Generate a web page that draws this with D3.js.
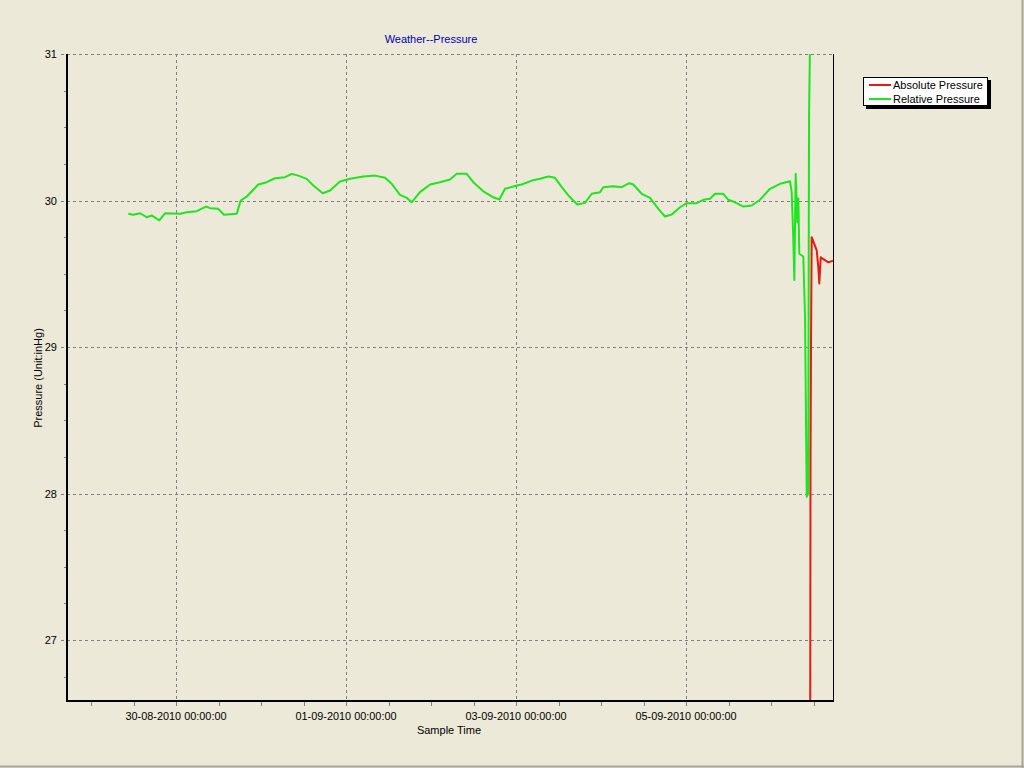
<!DOCTYPE html>
<html>
<head>
<meta charset="utf-8">
<script src="https://cdn.jsdelivr.net/npm/d3@7"></script>
<style>
  html, body { margin: 0; padding: 0; background: #ECE9D8; }
  svg { display: block; }
  text { font-family: "Liberation Sans", Arial, sans-serif; }
</style>
</head>
<body>
<svg id="chart" width="1024" height="768"></svg>
<script>
// ---------------- DATA ----------------
const chartTitle = "Weather--Pressure";
const xTitle = "Sample Time";
const yTitle = "Pressure (Unit:inHg)";
const seriesNames = ["Absolute Pressure", "Relative Pressure"];
const seriesColors = ["#E41A14", "#1EE61E"];

const xDomain = ["2010-08-28 17:13", "2010-09-06 17:30"];
const yDomain = [26.584, 31];
const yMajorTicks = [27, 28, 29, 30, 31];
const xLabelTicks = ["2010-08-30 00:00", "2010-09-01 00:00", "2010-09-03 00:00", "2010-09-05 00:00"];
const xTickLabels = ["30-08-2010 00:00:00", "01-09-2010 00:00:00", "03-09-2010 00:00:00", "05-09-2010 00:00:00"];

const relTimes = [
"2010-08-29 10:32","2010-08-29 11:56","2010-08-29 13:50","2010-08-29 15:44","2010-08-29 17:08",
"2010-08-29 19:17","2010-08-29 20:53","2010-08-30 01:08","2010-08-30 03:01","2010-08-30 05:50",
"2010-08-30 08:28","2010-08-30 09:36","2010-08-30 11:56","2010-08-30 13:33","2010-08-30 17:08",
"2010-08-30 18:16","2010-08-30 19:58","2010-08-30 23:14","2010-08-31 01:37","2010-08-31 03:57",
"2010-08-31 06:47","2010-08-31 08:40","2010-08-31 10:32","2010-08-31 12:54","2010-08-31 14:46",
"2010-08-31 17:25","2010-08-31 19:29","2010-08-31 22:18","2010-09-01 01:08","2010-09-01 04:53",
"2010-09-01 08:11","2010-09-01 11:01","2010-09-01 12:54","2010-09-01 15:15","2010-09-01 17:08",
"2010-09-01 18:33","2010-09-01 20:53","2010-09-01 23:43","2010-09-02 02:32","2010-09-02 05:22",
"2010-09-02 07:15","2010-09-02 10:05","2010-09-02 11:56","2010-09-02 14:46","2010-09-02 17:35",
"2010-09-02 19:17","2010-09-02 20:53","2010-09-03 00:12","2010-09-03 01:37","2010-09-03 04:26",
"2010-09-03 06:46","2010-09-03 09:07","2010-09-03 11:01","2010-09-03 12:54","2010-09-03 15:15",
"2010-09-03 17:19","2010-09-03 19:29","2010-09-03 21:22","2010-09-03 23:43","2010-09-04 00:39",
"2010-09-04 03:28","2010-09-04 05:50","2010-09-04 07:59","2010-09-04 09:07","2010-09-04 11:29",
"2010-09-04 13:50","2010-09-04 16:11","2010-09-04 18:04","2010-09-04 19:58","2010-09-04 22:18",
"2010-09-05 00:11","2010-09-05 03:01","2010-09-05 04:53","2010-09-05 06:46","2010-09-05 08:11",
"2010-09-05 10:32","2010-09-05 11:56","2010-09-05 13:50","2010-09-05 16:11","2010-09-05 18:33",
"2010-09-05 20:53","2010-09-05 23:43","2010-09-06 02:32","2010-09-06 05:22","2010-09-06 05:50",
"2010-09-06 06:17","2010-09-06 06:35","2010-09-06 06:58","2010-09-06 07:26","2010-09-06 07:43",
"2010-09-06 07:59","2010-09-06 09:07","2010-09-06 09:36","2010-09-06 10:05","2010-09-06 10:30",
"2010-09-06 10:44","2010-09-06 11:01"
];
const relValues = [
29.909,29.903,29.913,29.886,29.898,
29.864,29.913,29.909,29.920,29.927,
29.959,29.948,29.943,29.903,29.909,
30.000,30.027,30.109,30.125,30.152,
30.159,30.182,30.170,30.148,30.102,
30.050,30.068,30.130,30.148,30.164,
30.170,30.155,30.114,30.039,30.018,
29.988,30.057,30.109,30.125,30.143,
30.182,30.182,30.125,30.063,30.022,
30.007,30.080,30.102,30.109,30.136,
30.148,30.164,30.155,30.091,30.022,
29.973,29.984,30.046,30.057,30.091,
30.097,30.091,30.118,30.109,30.046,
30.018,29.943,29.891,29.905,29.954,
29.982,29.982,30.005,30.012,30.046,
30.046,30.005,29.988,29.959,29.966,
30.005,30.080,30.114,30.132,30.057,
29.750,29.458,30.182,29.852,30.014,
29.637,29.618,29.205,27.978,28.000,
30.559,31.100
];

const absTimes = [
"2010-09-06 11:01","2010-09-06 11:09","2010-09-06 11:17","2010-09-06 11:29","2010-09-06 12:54",
"2010-09-06 13:21","2010-09-06 13:38","2010-09-06 14:02","2010-09-06 14:46","2010-09-06 16:11",
"2010-09-06 17:30"
];
const absValues = [
25.5, 28.21, 28.98, 29.75, 29.66,
29.545, 29.434, 29.613, 29.60, 29.578,
29.59
];

// ---------------- CHART ----------------
const parse = d3.timeParse("%Y-%m-%d %H:%M");
const svg = d3.select("#chart");
const W = 1024, H = 768;
const plot = { left: 67, right: 833, top: 54, bottom: 701 };

const x = d3.scaleTime().domain(xDomain.map(parse)).range([plot.left, plot.right]);
const y = d3.scaleLinear().domain(yDomain).range([plot.bottom, plot.top]);

// outer frame shadow (right / bottom)
svg.append("line").attr("x1", W - 1.5).attr("x2", W - 1.5).attr("y1", 0).attr("y2", H)
  .attr("stroke", "#A7A69A").attr("stroke-width", 2);
svg.append("line").attr("x1", 0).attr("x2", W).attr("y1", H - 1.5).attr("y2", H - 1.5)
  .attr("stroke", "#A7A69A").attr("stroke-width", 2);

const grid = "#808080";

// Y gridlines (major) and minor ticks
const yMinor = d3.range(yMajorTicks[0] - 0.25, yDomain[1] + 0.001, 0.25)
  .filter(v => v >= yDomain[0] && !yMajorTicks.some(m => Math.abs(m - v) < 1e-6));
svg.append("g").selectAll("line").data(yMajorTicks).join("line")
  .attr("x1", plot.left - 6).attr("x2", plot.right)
  .attr("y1", d => Math.round(y(d)) + 0.5).attr("y2", d => Math.round(y(d)) + 0.5)
  .attr("stroke", grid).attr("stroke-dasharray", "3,3");
svg.append("g").selectAll("line").data(yMinor).join("line")
  .attr("x1", plot.left - 3).attr("x2", plot.left)
  .attr("y1", d => Math.round(y(d)) + 0.5).attr("y2", d => Math.round(y(d)) + 0.5)
  .attr("stroke", grid);
svg.append("g").selectAll("text").data(yMajorTicks).join("text")
  .attr("x", plot.left - 10).attr("y", d => y(d) + 4)
  .attr("text-anchor", "end").attr("font-size", 11).attr("fill", "#000")
  .text(d => d3.format("d")(d));

// X ticks every 12 h, gridlines at labelled ticks
const xTicks = d3.timeHour.every(12).range(x.domain()[0], x.domain()[1]);
svg.append("g").selectAll("line").data(xTicks).join("line")
  .attr("x1", d => Math.round(x(d)) + 0.5).attr("x2", d => Math.round(x(d)) + 0.5)
  .attr("y1", plot.bottom).attr("y2", plot.bottom + 5)
  .attr("stroke", grid);
const labelDates = xLabelTicks.map(parse);
svg.append("g").selectAll("line").data(labelDates).join("line")
  .attr("x1", d => Math.round(x(d)) + 0.5).attr("x2", d => Math.round(x(d)) + 0.5)
  .attr("y1", plot.top).attr("y2", plot.bottom)
  .attr("stroke", grid).attr("stroke-dasharray", "3,3");
svg.append("g").selectAll("text").data(labelDates).join("text")
  .attr("x", d => x(d)).attr("y", 720)
  .attr("text-anchor", "middle").attr("font-size", 11).attr("fill", "#000")
  .attr("textLength", 101).attr("lengthAdjust", "spacingAndGlyphs")
  .text((d, i) => xTickLabels[i]);

// clip
svg.append("clipPath").attr("id", "clip").append("rect")
  .attr("x", plot.left).attr("y", plot.top)
  .attr("width", plot.right - plot.left).attr("height", plot.bottom - plot.top);

const line = d3.line().x(d => x(d[0])).y(d => y(d[1]));
const relData = relTimes.map((t, i) => [parse(t), relValues[i]]);
const absData = absTimes.map((t, i) => [parse(t), absValues[i]]);

const lines = svg.append("g").attr("clip-path", "url(#clip)");
lines.append("path").datum(relData).attr("d", line)
  .attr("fill", "none").attr("stroke", seriesColors[1]).attr("stroke-width", 2)
  .attr("stroke-linejoin", "round");
lines.append("path").datum(absData).attr("d", line)
  .attr("fill", "none").attr("stroke", seriesColors[0]).attr("stroke-width", 2)
  .attr("stroke-linejoin", "round");

// axes frame
svg.append("line").attr("x1", plot.right + 0.5).attr("x2", plot.right + 0.5)
  .attr("y1", plot.top).attr("y2", plot.bottom).attr("stroke", "#000");
svg.append("line").attr("x1", plot.left).attr("x2", plot.left)
  .attr("y1", plot.top).attr("y2", plot.bottom + 1).attr("stroke", "#000").attr("stroke-width", 2);
svg.append("line").attr("x1", plot.left - 1).attr("x2", plot.right + 1)
  .attr("y1", plot.bottom).attr("y2", plot.bottom).attr("stroke", "#000").attr("stroke-width", 2);

// titles
svg.append("text").attr("x", 431).attr("y", 43).attr("text-anchor", "middle")
  .attr("font-size", 11).attr("fill", "#0000B0").text(chartTitle);
svg.append("text").attr("x", plot.left + (plot.right - plot.left) / 2 - 1).attr("y", 734)
  .attr("text-anchor", "middle").attr("font-size", 11).attr("fill", "#000").text(xTitle);
svg.append("text").attr("transform", "translate(42,378) rotate(-90)")
  .attr("text-anchor", "middle").attr("font-size", 11).attr("fill", "#000").text(yTitle);

// legend
const lg = svg.append("g").attr("transform", "translate(863,77)");
lg.append("rect").attr("x", 3).attr("y", 3).attr("width", 125).attr("height", 29).attr("fill", "#000");
lg.append("rect").attr("x", 0.5).attr("y", 0.5).attr("width", 124).attr("height", 28)
  .attr("fill", "#fff").attr("stroke", "#000");
seriesNames.forEach((name, i) => {
  const yy = 8 + i * 14;
  lg.append("line").attr("x1", 6).attr("x2", 28).attr("y1", yy).attr("y2", yy)
    .attr("stroke", seriesColors[i]).attr("stroke-width", 2);
  lg.append("text").attr("x", 30).attr("y", yy + 4).attr("font-size", 11)
    .attr("fill", "#000").text(name);
});
</script>
</body>
</html>
